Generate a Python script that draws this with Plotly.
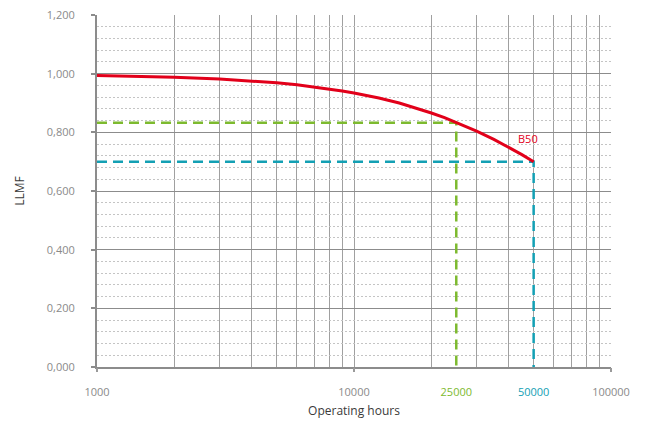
import math
import plotly.graph_objects as go

# LLMF degradation curve (operating hours vs lumen maintenance factor)
hours = [1000, 1500, 2000, 3000, 4000, 5000, 6000, 7000, 8000, 9000, 10000,
         12500, 15000, 17500, 20000, 22500, 25000, 27500, 30000, 35000,
         40000, 45000, 50000]
llmf = [0.994, 0.991, 0.988, 0.982, 0.976, 0.969, 0.962, 0.955, 0.948, 0.941, 0.934,
        0.917, 0.900, 0.883, 0.866, 0.850, 0.833, 0.819, 0.804, 0.776,
        0.749, 0.724, 0.700]

# reference points
green_hours = 25000
green_llmf = 0.833
b50_hours = 50000
b50_llmf = 0.700

x_min, x_max = 1000, 100000
y_ticks = [0, 0.2, 0.4, 0.6, 0.8, 1.0, 1.2]
x_tick_vals = [1000, 10000, 25000, 50000, 100000]

RED = "#e2001a"
GREEN = "#7dba2f"
CYAN = "#13a0b4"
LABEL = "#8a8a8a"

x_tick_text = [
    "1000",
    "10000",
    f"<span style='color:{GREEN}'>25000</span>",
    f"<span style='color:{CYAN}'>50000</span>",
    "100000",
]

# gridlines at every integer multiple within each decade
x_grid = [m * d for d in (1000, 10000) for m in range(1, 10)] + [100000]

fig = go.Figure()

fig.add_trace(go.Scatter(
    x=[x_min, green_hours, green_hours], y=[green_llmf, green_llmf, 0],
    mode="lines", line=dict(color=GREEN, width=2.5, dash="10px,6px"),
    hoverinfo="skip", showlegend=False,
))
fig.add_trace(go.Scatter(
    x=[x_min, b50_hours, b50_hours], y=[b50_llmf, b50_llmf, 0],
    mode="lines", line=dict(color=CYAN, width=2.5, dash="10px,6px"),
    hoverinfo="skip", showlegend=False,
))
fig.add_trace(go.Scatter(
    x=hours, y=llmf, mode="lines",
    line=dict(color=RED, width=3),
    showlegend=False,
))

# decade tick marks on an overlaid axis
fig.add_trace(go.Scatter(x=[x_min, x_max], y=[None, None], xaxis="x2",
                         showlegend=False, hoverinfo="skip"))

# annotation positions on a log axis are given in log10 units
fig.add_annotation(
    x=math.log10(b50_hours), y=b50_llmf, xref="x", yref="y",
    text="B50", showarrow=False, xanchor="center", yanchor="bottom",
    xshift=-6, yshift=14, font=dict(color=RED, size=11, family="Open Sans"),
)

fig.update_layout(
    width=646, height=421,
    margin=dict(l=97, r=35, t=15, b=54, autoexpand=False),
    paper_bgcolor="white", plot_bgcolor="white",
    separators=", ",
    font=dict(family="Open Sans", size=11, color=LABEL),
    xaxis=dict(
        type="log", range=[3, 5], automargin=False,
        tickmode="array", tickvals=x_tick_vals, ticktext=x_tick_text,
        showgrid=False, ticks="", zeroline=False,
        showline=True, linecolor="#8c8c8c", linewidth=2,
        ticklabelstandoff=14,
        tickfont=dict(size=11, color=LABEL),
        title=dict(text="Operating hours", standoff=8,
                   font=dict(size=12, color="#3a3a3a")),
        minor=dict(tickmode="array", tickvals=x_grid, showgrid=True,
                   gridcolor="#a0a0a0", gridwidth=1, ticks=""),
    ),
    xaxis2=dict(
        type="log", range=[3, 5], overlaying="x", side="bottom", automargin=False,
        tickmode="array", tickvals=[1000, 10000, 100000],
        showticklabels=False, showgrid=False, ticks="outside",
        ticklen=4, tickwidth=2, tickcolor="#9a9a9a", showline=False,
    ),
    yaxis=dict(
        range=[0, 1.2], tickmode="array", tickvals=y_ticks, tickformat=".3f",
        automargin=False,
        showgrid=True, gridcolor="#8c8c8c", gridwidth=1,
        ticks="outside", ticklen=4, tickwidth=2, tickcolor="#8c8c8c",
        showline=True, linecolor="#8c8c8c", linewidth=2, zeroline=False,
        ticklabelstandoff=14,
        tickfont=dict(size=11, color=LABEL),
        title=dict(text="LLMF", standoff=20,
                   font=dict(size=12, color="#3a3a3a")),
        minor=dict(dtick=0.04, showgrid=True, gridcolor="#c4c4c4",
                   gridwidth=1, griddash="2px,2px", ticks=""),
    ),
)

fig.write_html("out.html")
